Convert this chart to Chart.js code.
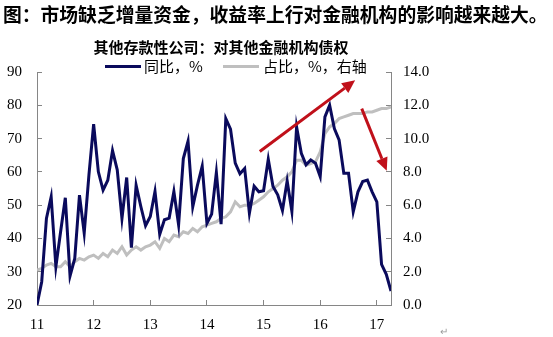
<!DOCTYPE html>
<html>
<head>
<meta charset="utf-8">
<script src="https://cdn.jsdelivr.net/npm/chart.js@4"></script>
<style>
  html, body { margin: 0; padding: 0; background: #fff; }
  #wrap { position: relative; width: 553px; height: 337px; overflow: hidden; }
  #chart { position: absolute; left: 0; top: 0; }
  .txt { position: absolute; white-space: nowrap; font-family: "Noto Sans CJK SC", sans-serif; color: #000; }
  #title { left: 3px; top: 2px; font-size: 18.8px; font-weight: bold; line-height: 24px; }
  #subtitle { left: 0; width: 442px; text-align: center; top: 37px; font-size: 15px; font-weight: bold; line-height: 20px; }
  .legend { top: 57px; font-size: 15px; line-height: 18px; }
  .swatch { position: absolute; height: 3px; top: 65px; }
  #mark { left: 440px; top: 323px; font-size: 10px; color: #999; }
</style>
</head>
<body>
<div id="wrap">
  <canvas id="chart" width="553" height="337"></canvas>
  <div class="txt" id="title">图：市场缺乏增量资金，收益率上行对金融机构的影响越来越大。</div>
  <div class="txt" id="subtitle">其他存款性公司：对其他金融机构债权</div>
  <div class="swatch" style="left:105px;width:36px;background:#0A0A5C;"></div>
  <div class="txt legend" style="left:144px;">同比，%</div>
  <div class="swatch" style="left:223px;width:36px;background:#BFBFBF;"></div>
  <div class="txt legend" style="left:263px;">占比，%，右轴</div>
  <div class="txt" id="mark">↵</div>
</div>
<script>
// monthly, Jan 2011 .. Apr 2017
const yearLabels = ["11", "12", "13", "14", "15", "16", "17"];

const yoy = [
  20, 27, 46, 52.5, 31.5, 42, 52.2, 28.7, 34, 53,
  41.6, 59, 74.3, 60, 54.5, 57.5, 66.4, 60.6, 46, 58.3,
  37.2, 56, 49.6, 43.8, 46.6, 54.1, 41.2, 45.6, 46.1, 54.1,
  44.1, 64, 69.2, 49.5, 56, 61.7, 44.5, 47.3, 59.8, 44.3,
  76, 72.8, 62.6, 59.4, 61, 47.6, 55.7, 54, 54.3, 63.8,
  55.6, 53.1, 48.4, 57.3, 48.1, 73.5, 65.6, 62.1, 63.6, 62.6,
  58.6, 76.5, 80, 73, 69.6, 59.6, 59.6, 48, 54, 57.1,
  57.5, 54, 51, 32.2, 29.2, 24.2
];

const share = [
  2.1, 2.2, 2.4, 2.5, 2.3, 2.3, 2.6, 2.3, 2.6, 2.8,
  2.7, 2.9, 3.0, 2.8, 3.1, 2.9, 3.3, 3.1, 3.5, 3.0,
  3.3, 3.5, 3.3, 3.5, 3.6, 3.8, 3.4, 4.0, 3.8, 4.2,
  4.1, 4.4, 4.3, 4.6, 4.4, 4.7, 4.8, 4.9, 5.0, 5.2,
  5.3, 5.6, 6.2, 5.9, 6.0, 6.0, 6.1, 6.3, 6.5, 6.8,
  7.0, 7.2, 7.5, 7.7, 8.0, 8.7, 8.7, 8.4, 8.5, 8.6,
  9.2, 10.3, 10.7, 10.9, 11.2, 11.3, 11.4, 11.5, 11.5, 11.5,
  11.6, 11.6, 11.7, 11.8, 11.8, 11.9
];

// red arrows, in month index / left-axis units
const arrows = [
  { from: [47.2, 66.1], to: [67.4, 87.5] },
  { from: [68.8, 79.0], to: [74.1, 60.3] }
];

const axisFont = { family: "Liberation Serif", size: 15 };
const axisGray = "#868686";

const arrowPlugin = {
  id: "arrows",
  afterDatasetsDraw(chart) {
    const ctx = chart.ctx;
    const xs = chart.scales.x, ys = chart.scales.y;
    ctx.save();
    ctx.strokeStyle = "#C0101A";
    ctx.fillStyle = "#C0101A";
    ctx.lineWidth = 3;
    arrows.forEach(a => {
      const x1 = xs.getPixelForValue(a.from[0]), y1 = ys.getPixelForValue(a.from[1]);
      const x2 = xs.getPixelForValue(a.to[0]), y2 = ys.getPixelForValue(a.to[1]);
      const ang = Math.atan2(y2 - y1, x2 - x1);
      const len = 13, half = 6;
      const bx = x2 - len * Math.cos(ang), by = y2 - len * Math.sin(ang);
      ctx.beginPath();
      ctx.moveTo(x1, y1);
      ctx.lineTo(bx, by);
      ctx.stroke();
      ctx.beginPath();
      ctx.moveTo(x2, y2);
      ctx.lineTo(bx + half * Math.sin(ang), by - half * Math.cos(ang));
      ctx.lineTo(bx - half * Math.sin(ang), by + half * Math.cos(ang));
      ctx.closePath();
      ctx.fill();
    });
    ctx.restore();
  }
};

new Chart(document.getElementById("chart"), {
  type: "line",
  data: {
    datasets: [
      {
        label: "同比，%",
        data: yoy.map((v, i) => ({ x: i, y: v })),
        borderColor: "#0A0A5C",
        borderWidth: 3,
        pointRadius: 0,
        tension: 0,
        yAxisID: "y"
      },
      {
        label: "占比，%，右轴",
        data: share.map((v, i) => ({ x: i, y: v })),
        borderColor: "#BFBFBF",
        borderWidth: 3,
        pointRadius: 0,
        tension: 0,
        yAxisID: "y1"
      }
    ]
  },
  options: {
    responsive: false,
    animation: false,
    layout: { padding: { top: 72, right: 122, bottom: 6, left: 0 } },
    plugins: {
      legend: { display: false },
      title: { display: false },
      tooltip: { enabled: false }
    },
    scales: {
      x: {
        type: "linear",
        min: 0,
        max: 75,
        afterBuildTicks: s => { s.ticks = yearLabels.map((_, i) => ({ value: i * 12 })); },
        afterFit: s => { s.height = 26; },
        ticks: {
          callback: v => yearLabels[Math.round(v / 12)],
          font: axisFont,
          color: "#000",
          padding: 16,
          maxRotation: 0,
          autoSkip: false
        },
        grid: { drawOnChartArea: false, tickLength: -5, color: axisGray },
        border: { color: axisGray }
      },
      y: {
        position: "left",
        min: 20,
        max: 90,
        afterFit: s => { s.width = 37; },
        ticks: { stepSize: 10, font: axisFont, color: "#000", padding: 20 },
        grid: { drawOnChartArea: false, tickLength: -5, color: axisGray },
        border: { color: axisGray }
      },
      y1: {
        position: "right",
        min: 0,
        max: 14,
        afterFit: s => { s.width = 40; },
        ticks: { stepSize: 2, font: axisFont, color: "#000", padding: 17, callback: v => v.toFixed(1) },
        grid: { drawOnChartArea: false, tickLength: -5, color: axisGray },
        border: { color: axisGray }
      }
    }
  },
  plugins: [arrowPlugin]
});
</script>
</body>
</html>
